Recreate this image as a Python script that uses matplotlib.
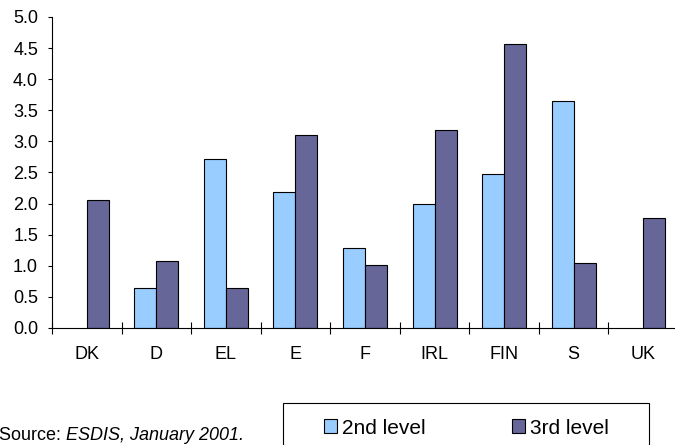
import numpy as np
import matplotlib
matplotlib.use("Agg")
import matplotlib.pyplot as plt
from matplotlib.patches import Patch, Rectangle

plt.rcParams["font.family"] = ["Liberation Sans", "DejaVu Sans"]

# Values
countries = ["DK", "D", "EL", "E", "F", "IRL", "FIN", "S", "UK"]
second_level = [np.nan, 0.64, 2.71, 2.18, 1.28, 1.99, 2.48, 3.65, np.nan]
third_level = [2.06, 1.07, 0.64, 3.10, 1.02, 3.19, 4.57, 1.04, 1.76]
y_ticks = [0.0, 0.5, 1.0, 1.5, 2.0, 2.5, 3.0, 3.5, 4.0, 4.5, 5.0]

fig = plt.figure(figsize=(6.75, 4.45), dpi=100)
ax = fig.add_axes([0.077, 0.263, 0.9274, 0.699])

x = np.arange(len(countries))
w = 0.316
ax.bar(x - w / 2, second_level, w, color="#99CCFF", edgecolor="black", linewidth=0.8)
ax.bar(x + w / 2, third_level, w, color="#666699", edgecolor="black", linewidth=0.8)

ax.set_xlim(-0.5, len(countries) - 0.5)
ax.set_ylim(0, 5)

ax.set_yticks(y_ticks)
ax.set_yticklabels([f"{v:.1f}" for v in y_ticks])
ax.tick_params(axis="y", direction="out", length=3, width=0.8, pad=7, labelsize=13)

ax.set_xticks(x)
ax.set_xticklabels(countries)
ax.set_xticks(np.arange(-0.5, len(countries)), minor=True)
ax.tick_params(axis="x", which="major", length=0, pad=13, labelsize=13)
ax.tick_params(axis="x", which="minor", direction="inout", length=8, width=0.8)

for side in ["top", "right"]:
    ax.spines[side].set_visible(False)
for side in ["left", "bottom"]:
    ax.spines[side].set_linewidth(0.8)

# Source line, with the italic part attached after the plain part
t = fig.text(-0.001, 0.0112, "Source: ", fontsize=13, va="baseline", ha="left")
ax.annotate("ESDIS, January 2001.", xy=(1, 0), xycoords=t, va="bottom", ha="left",
            fontsize=13, style="italic")

# Legend box frame, drawn separately so the entries can sit inside it freely
fig.patches.append(Rectangle((283 / 675, -0.05), (649 - 283) / 675, 0.05 + (445 - 403) / 445,
                             transform=fig.transFigure, facecolor="none", edgecolor="black",
                             linewidth=0.8))
handles = [Patch(facecolor="#99CCFF", edgecolor="black", linewidth=0.8, label="2nd level"),
           Patch(facecolor="#666699", edgecolor="black", linewidth=0.8, label="3rd level")]
fig.legend(handles=handles, ncol=2, loc="center left", bbox_to_anchor=(324 / 675, 1 - 428 / 445),
           fontsize=15, frameon=False, borderpad=0, borderaxespad=0,
           handlelength=0.62, handleheight=0.62, handletextpad=0.25, columnspacing=4.15)

fig.savefig("out.png", dpi=100)
